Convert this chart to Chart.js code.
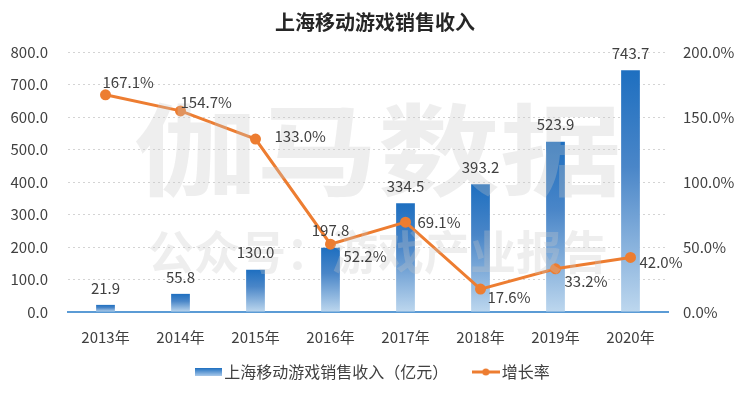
<!DOCTYPE html>
<html>
<head>
<meta charset="utf-8">
<script src="https://cdn.jsdelivr.net/npm/chart.js@4.4.0/dist/chart.umd.min.js"></script>
<style>
  html, body { margin: 0; padding: 0; background: #ffffff; }
  #wrap { width: 750px; height: 393px; position: relative; }
</style>
</head>
<body>
<div id="wrap"><canvas id="salesChart"></canvas></div>
<script>
// --- chart data ---
const years = ['2013年', '2014年', '2015年', '2016年', '2017年', '2018年', '2019年', '2020年'];
const revenue = [21.9, 55.8, 130.0, 197.8, 334.5, 393.2, 523.9, 743.7];
const growth = [167.1, 154.7, 133.0, 52.2, 69.1, 17.6, 33.2, 42.0];
const leftTicks = [0, 100, 200, 300, 400, 500, 600, 700, 800];
const rightTicks = [0, 50, 100, 150, 200];

const barLabel = '上海移动游戏销售收入（亿元）';
const lineLabel = '增长率';

const FONT = '"Noto Sans CJK SC", "Noto Sans", sans-serif';
const ORANGE = '#ed7d31';
const TEXT = '#404040';

// where each growth label sits relative to its point (dx, dy)
const growthLabelOffset = [[-3, -12], [0, -9], [19, -3], [13, 12], [12, 0], [7, 8], [9, 12], [9, 5]];

function barGradient(ctx, top, bottom) {
    const g = ctx.createLinearGradient(0, top, 0, bottom);
    g.addColorStop(0, '#1e6fc0');
    g.addColorStop(0.4, '#4a86c8');
    g.addColorStop(1, '#bdd7ee');
    return g;
}

// small canvases used as legend markers
function makeBarMarker() {
    const c = document.createElement('canvas');
    c.width = 27; c.height = 8;
    const x = c.getContext('2d');
    const g = x.createLinearGradient(0, 0, 0, 8);
    g.addColorStop(0, '#1e6fc0');
    g.addColorStop(1, '#a9c9ea');
    x.fillStyle = g;
    x.fillRect(0, 0, 27, 8);
    return c;
}
function makeLineMarker() {
    const c = document.createElement('canvas');
    c.width = 28; c.height = 10;
    const x = c.getContext('2d');
    x.strokeStyle = ORANGE;
    x.lineWidth = 3;
    x.beginPath(); x.moveTo(0, 5); x.lineTo(28, 5); x.stroke();
    x.fillStyle = ORANGE;
    x.beginPath(); x.arc(14, 5, 3.5, 0, Math.PI * 2); x.fill();
    return c;
}

const watermarkPlugin = {
    id: 'watermark',
    afterDatasetsDraw(chart) {
        const ctx = chart.ctx;
        ctx.save();
        ctx.fillStyle = 'rgba(200,200,200,0.3)';
        ctx.textAlign = 'center';
        ctx.textBaseline = 'middle';
        ctx.font = 'bold 100px ' + FONT;
        ctx.save();
        ctx.translate(378, 150);
        ctx.scale(1.22, 1);
        ctx.fillText('伽马数据', 0, 0);
        ctx.restore();
        ctx.font = 'bold 46px ' + FONT;
        ctx.fillText('公众号：游戏产业报告', 378, 252);
        ctx.restore();
    }
};

const valueLabelPlugin = {
    id: 'valueLabels',
    afterDatasetsDraw(chart) {
        const ctx = chart.ctx;
        ctx.save();
        ctx.font = '15px ' + FONT;
        ctx.fillStyle = TEXT;
        ctx.textBaseline = 'middle';
        // bar values (dataset 1)
        ctx.textAlign = 'center';
        chart.getDatasetMeta(1).data.forEach((bar, i) => {
            ctx.fillText(revenue[i].toFixed(1), bar.x, bar.y - 17);
        });
        // growth values (dataset 0)
        ctx.textAlign = 'left';
        chart.getDatasetMeta(0).data.forEach((pt, i) => {
            const off = growthLabelOffset[i];
            ctx.fillText(growth[i].toFixed(1) + '%', pt.x + off[0], pt.y + off[1]);
        });
        ctx.restore();
    }
};

const ctx = document.getElementById('salesChart').getContext('2d');
new Chart(ctx, {
    data: {
        labels: years,
        datasets: [
            {
                type: 'line',
                label: lineLabel,
                data: growth,
                yAxisID: 'yRight',
                borderColor: ORANGE,
                backgroundColor: ORANGE,
                borderWidth: 3,
                pointRadius: 4,
                pointHoverRadius: 4,
                tension: 0,
                order: 0
            },
            {
                type: 'bar',
                label: barLabel,
                data: revenue,
                yAxisID: 'yLeft',
                backgroundColor: function (c) {
                    const chart = c.chart;
                    const yScale = chart.scales.yLeft;
                    if (!chart.chartArea || !yScale || c.raw === undefined) return '#1e6fc0';
                    const top = yScale.getPixelForValue(c.raw);
                    const bottom = yScale.getPixelForValue(0);
                    if (!isFinite(top) || !isFinite(bottom) || bottom - top < 1) return '#1e6fc0';
                    return barGradient(chart.ctx, top, bottom);
                },
                barPercentage: 0.25,
                categoryPercentage: 1,
                order: 1
            }
        ]
    },
    options: {
        responsive: true,
        maintainAspectRatio: false,
        animation: false,
        layout: { padding: { left: 0, right: 0, top: 0, bottom: 3 } },
        plugins: {
            title: {
                display: true,
                text: '上海移动游戏销售收入',
                color: '#262626',
                font: { family: FONT, size: 20, weight: 'bold' },
                padding: { top: 10, bottom: 18 }
            },
            legend: {
                position: 'bottom',
                reverse: true,
                labels: {
                    usePointStyle: true,
                    color: TEXT,
                    font: { family: FONT, size: 16 },
                    padding: 2,
                    generateLabels: function (chart) {
                        return [
                            { text: lineLabel, pointStyle: makeLineMarker(), datasetIndex: 0, fontColor: TEXT, lineWidth: 0, strokeStyle: 'transparent' },
                            // trailing spaces widen the gap between the two entries
                            { text: barLabel + '\u3000\u3000 ', pointStyle: makeBarMarker(), datasetIndex: 1, fontColor: TEXT, lineWidth: 0, strokeStyle: 'transparent' }
                        ];
                    }
                }
            },
            tooltip: { enabled: false }
        },
        scales: {
            x: {
                grid: { display: false, drawTicks: false },
                border: { display: true, color: '#5b9bd5', width: 2 },
                ticks: { color: TEXT, font: { family: FONT, size: 15 }, padding: 16 }
            },
            yLeft: {
                position: 'left',
                min: 0,
                max: 800,
                afterBuildTicks: function (scale) {
                    scale.ticks = leftTicks.map(v => ({ value: v }));
                },
                afterFit: function (scale) { scale.width = 68; },
                grid: {
                    color: function (c) { return c.tick.value === 0 ? 'transparent' : '#d4d4d4'; },
                    drawTicks: false
                },
                border: { display: false, dash: [2, 3] },
                ticks: {
                    color: TEXT,
                    font: { family: FONT, size: 15 },
                    padding: 20,
                    callback: v => v.toFixed(1)
                }
            },
            yRight: {
                position: 'right',
                min: 0,
                max: 200,
                afterBuildTicks: function (scale) {
                    scale.ticks = rightTicks.map(v => ({ value: v }));
                },
                afterFit: function (scale) { scale.width = 82; },
                grid: { display: false, drawTicks: false },
                border: { display: false },
                ticks: {
                    color: TEXT,
                    font: { family: FONT, size: 15 },
                    padding: 15,
                    callback: v => v.toFixed(1) + '%'
                }
            }
        }
    },
    plugins: [watermarkPlugin, valueLabelPlugin]
});
</script>
</body>
</html>
